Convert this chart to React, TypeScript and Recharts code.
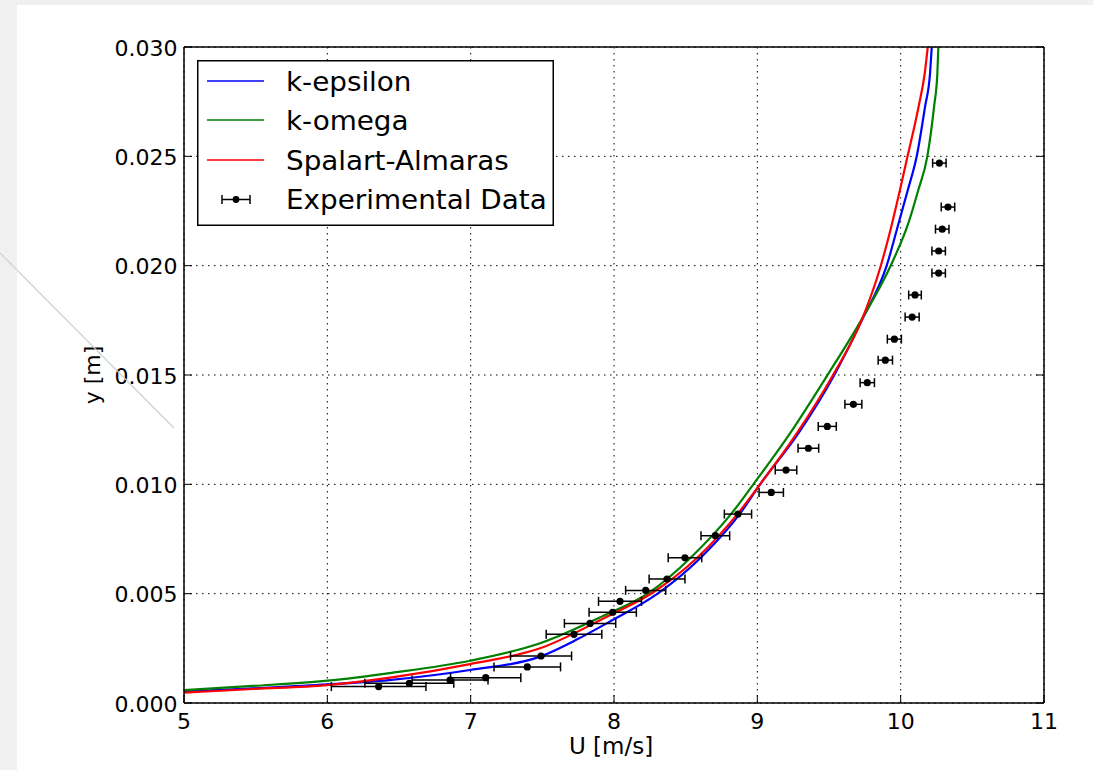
import React from 'react';
import {
  ComposedChart,
  Line,
  Scatter,
  XAxis,
  YAxis,
  CartesianGrid,
  ErrorBar,
  Legend,
  Label,
} from 'recharts';

// ---------- data ----------
const uTicks = [5, 6, 7, 8, 9, 10, 11];
const yTicks = [0, 0.005, 0.01, 0.015, 0.02, 0.025, 0.03];

const seriesNames = ['k-epsilon', 'k-omega', 'Spalart-Almaras', 'Experimental Data'];
const seriesColors = ['#0000ff', '#008000', '#ff0000', '#000000'];

const kEpsilonU = [5.0, 5.48, 6.0, 6.43, 6.995, 7.484, 7.74, 7.97, 8.309, 8.612, 8.88, 9.019, 9.286, 9.535, 9.73, 9.903, 9.985, 10.05, 10.112, 10.17, 10.205, 10.217];
const kEpsilonY = [0.00052, 0.00067, 0.00085, 0.00105, 0.00151, 0.00212, 0.0029, 0.00372, 0.00502, 0.00669, 0.00867, 0.01, 0.01233, 0.01498, 0.01751, 0.02001, 0.02193, 0.02346, 0.025, 0.02727, 0.0288, 0.03];

const kOmegaU = [5.0, 5.48, 6.0, 6.45, 6.995, 7.484, 7.914, 8.239, 8.542, 8.82, 8.972, 9.228, 9.488, 9.725, 9.931, 10.053, 10.123, 10.186, 10.233, 10.256, 10.263];
const kOmegaY = [0.00059, 0.00078, 0.00102, 0.00138, 0.00193, 0.00273, 0.00395, 0.00502, 0.00669, 0.00867, 0.01, 0.01233, 0.01498, 0.01751, 0.02001, 0.02193, 0.02346, 0.025, 0.02727, 0.0288, 0.03];

const spalartU = [5.0, 5.48, 6.0, 6.45, 6.995, 7.484, 7.96, 8.263, 8.588, 8.865, 9.019, 9.275, 9.526, 9.728, 9.862, 9.94, 9.995, 10.048, 10.125, 10.168, 10.189];
const spalartY = [0.00047, 0.00064, 0.00082, 0.00117, 0.00178, 0.0025, 0.00398, 0.00502, 0.00669, 0.00867, 0.01, 0.01233, 0.01498, 0.01751, 0.02001, 0.02193, 0.02346, 0.025, 0.02727, 0.0288, 0.03];

const expU = [6.358, 6.572, 6.856, 7.105, 7.395, 7.491, 7.721, 7.833, 7.991, 8.042, 8.221, 8.37, 8.495, 8.707, 8.865, 9.097, 9.2, 9.356, 9.488, 9.67, 9.767, 9.893, 9.956, 10.08, 10.1, 10.265, 10.265, 10.29, 10.33, 10.27];
const expY = [0.00075, 0.0009, 0.00105, 0.00116, 0.00165, 0.00215, 0.00314, 0.00364, 0.00415, 0.00465, 0.00515, 0.00567, 0.00664, 0.00765, 0.00864, 0.00963, 0.01065, 0.01165, 0.01265, 0.01366, 0.01465, 0.01568, 0.01664, 0.01765, 0.01866, 0.01966, 0.02067, 0.02167, 0.02268, 0.02469];
const expErr = [0.33, 0.31, 0.265, 0.245, 0.232, 0.213, 0.194, 0.179, 0.165, 0.15, 0.14, 0.125, 0.117, 0.1, 0.095, 0.085, 0.075, 0.072, 0.063, 0.059, 0.05, 0.05, 0.049, 0.049, 0.044, 0.047, 0.047, 0.047, 0.047, 0.047];

const toPoints = (us: number[], ys: number[]) => us.map((u, i) => ({ u, y: ys[i] }));
const kEpsilonData = toPoints(kEpsilonU, kEpsilonY);
const kOmegaData = toPoints(kOmegaU, kOmegaY);
const spalartData = toPoints(spalartU, spalartY);
const expData = expU.map((u, i) => ({ u, y: expY[i], err: expErr[i] }));

// ---------- styling ----------
const FONT = "'DejaVu Sans', 'Bitstream Vera Sans', sans-serif";
const TICK_FS = 22;
const W = 1093;
const H = 770;

const BottomTick = (props: any) => {
  const { x, y, payload } = props;
  return (
    <g>
      <line x1={x} x2={x} y1={y} y2={y - 8} stroke="#000" strokeWidth={1} />
      <text x={x} y={y + 25.5} textAnchor="middle" fontFamily={FONT} fontSize={TICK_FS} fill="#000">
        {payload.value}
      </text>
    </g>
  );
};

const TopTick = (props: any) => {
  const { x, y } = props;
  return <line x1={x} x2={x} y1={y} y2={y + 8} stroke="#000" strokeWidth={1} />;
};

const LeftTick = (props: any) => {
  const { x, y, payload } = props;
  return (
    <g>
      <line x1={x} x2={x + 8} y1={y} y2={y} stroke="#000" strokeWidth={1} />
      <text x={x - 6.5} y={y + 8.5} textAnchor="end" fontFamily={FONT} fontSize={TICK_FS} fill="#000">
        {Number(payload.value).toFixed(3)}
      </text>
    </g>
  );
};

const RightTick = (props: any) => {
  const { x, y } = props;
  return <line x1={x - 8} x2={x} y1={y} y2={y} stroke="#000" strokeWidth={1} />;
};

const XLabelContent = (props: any) => {
  const vb = props.viewBox || {};
  return (
    <text x={vb.x + vb.width / 2 - 3} y={vb.y + 51} textAnchor="middle" fontFamily={FONT} fontSize={23} fill="#000">
      U [m/s]
    </text>
  );
};

const YLabelContent = (props: any) => {
  const vb = props.viewBox || {};
  const cx = vb.x - 4;
  const cy = vb.y + vb.height / 2;
  return (
    <text x={cx} y={cy} transform={`rotate(-90 ${cx} ${cy})`} textAnchor="middle" fontFamily={FONT} fontSize={22} fill="#000">
      y [m]
    </text>
  );
};

const Dot = (props: any) => {
  const { cx, cy } = props;
  return <circle cx={cx} cy={cy} r={3.6} fill="#000" />;
};

const LegendBox = () => {
  const rowY = [21, 60, 100, 139.5];
  return (
    <svg width={358} height={167} style={{ display: 'block' }}>
      <rect x={0.75} y={0.75} width={355.5} height={164.5} fill="#fff" stroke="#000" strokeWidth={1.5} />
      {seriesNames.map((name, i) => (
        <g key={name}>
          {i < 3 ? (
            <line x1={10} x2={67} y1={rowY[i]} y2={rowY[i]} stroke={seriesColors[i]} strokeWidth={1.5} />
          ) : (
            <g stroke="#000" strokeWidth={1.5}>
              <line x1={25} x2={53} y1={rowY[i]} y2={rowY[i]} />
              <line x1={25} x2={25} y1={rowY[i] - 4.5} y2={rowY[i] + 4.5} />
              <line x1={53} x2={53} y1={rowY[i] - 4.5} y2={rowY[i] + 4.5} />
              <circle cx={39} cy={rowY[i]} r={3.4} fill="#000" stroke="none" />
            </g>
          )}
          <text
            x={0}
            y={0}
            transform={`translate(89 ${rowY[i] + 9.5}) scale(1.05 1)`}
            fontFamily={FONT}
            fontSize={26.5}
            fill="#000"
          >
            {name}
          </text>
        </g>
      ))}
    </svg>
  );
};

export default function App() {
  return (
    <div style={{ position: 'fixed', left: 0, top: 0, width: W, height: H, background: '#f0f0f0', overflow: 'hidden' }}>
      <div style={{ position: 'absolute', left: 17, top: 5, width: W - 17, height: H - 5, background: '#ffffff' }} />
      <div style={{ position: 'absolute', left: 0, top: 0 }}>
        <ComposedChart width={W} height={H} margin={{ top: 46, right: 48, left: 104, bottom: 7 }}>
          <CartesianGrid stroke="#000" strokeDasharray="1.5 4.5" strokeWidth={1} />
          <XAxis
            xAxisId={0}
            dataKey="u"
            type="number"
            domain={[5, 11]}
            ticks={uTicks}
            allowDataOverflow
            height={60}
            tickSize={0}
            tickMargin={0}
            tickLine={false}
            axisLine={{ stroke: '#000', strokeWidth: 1.5 }}
            tick={BottomTick}
            interval={0}
          >
            <Label content={XLabelContent} />
          </XAxis>
          <XAxis
            xAxisId="top"
            orientation="top"
            type="number"
            domain={[5, 11]}
            ticks={uTicks}
            allowDataOverflow
            height={1}
            tickSize={0}
            tickMargin={0}
            tickLine={false}
            axisLine={{ stroke: '#000', strokeWidth: 1.5 }}
            tick={TopTick}
            interval={0}
          />
          <YAxis
            yAxisId={0}
            dataKey="y"
            type="number"
            domain={[0, 0.03]}
            ticks={yTicks}
            allowDataOverflow
            width={80}
            tickSize={0}
            tickMargin={0}
            tickLine={false}
            axisLine={{ stroke: '#000', strokeWidth: 1.5 }}
            tick={LeftTick}
            interval={0}
          >
            <Label content={YLabelContent} />
          </YAxis>
          <YAxis
            yAxisId="right"
            orientation="right"
            type="number"
            domain={[0, 0.03]}
            ticks={yTicks}
            allowDataOverflow
            width={1}
            tickSize={0}
            tickMargin={0}
            tickLine={false}
            axisLine={{ stroke: '#000', strokeWidth: 1.5 }}
            tick={RightTick}
            interval={0}
          />
          <Line data={kEpsilonData} dataKey="y" name={seriesNames[0]} type="monotone" stroke={seriesColors[0]} strokeWidth={2.2} dot={false} isAnimationActive={false} />
          <Line data={kOmegaData} dataKey="y" name={seriesNames[1]} type="monotone" stroke={seriesColors[1]} strokeWidth={2.2} dot={false} isAnimationActive={false} />
          <Line data={spalartData} dataKey="y" name={seriesNames[2]} type="monotone" stroke={seriesColors[2]} strokeWidth={2.2} dot={false} isAnimationActive={false} />
          <Scatter data={expData} dataKey="y" name={seriesNames[3]} fill="#000" shape={Dot} isAnimationActive={false}>
            <ErrorBar dataKey="err" direction="x" width={4.5} stroke="#000" strokeWidth={1.5} isAnimationActive={false} />
          </Scatter>
          <Legend
            layout="vertical"
            align="center"
            verticalAlign="middle"
            content={LegendBox}
            wrapperStyle={{ position: 'absolute', left: 197, top: 60, width: 358, height: 167 }}
          />
        </ComposedChart>
      </div>
      <svg width={W} height={H} style={{ position: 'absolute', left: 0, top: 0, pointerEvents: 'none' }}>
        <line x1={0} y1={253} x2={174} y2={428} stroke="#cfcfcf" strokeWidth={1.2} />
      </svg>
    </div>
  );
}
